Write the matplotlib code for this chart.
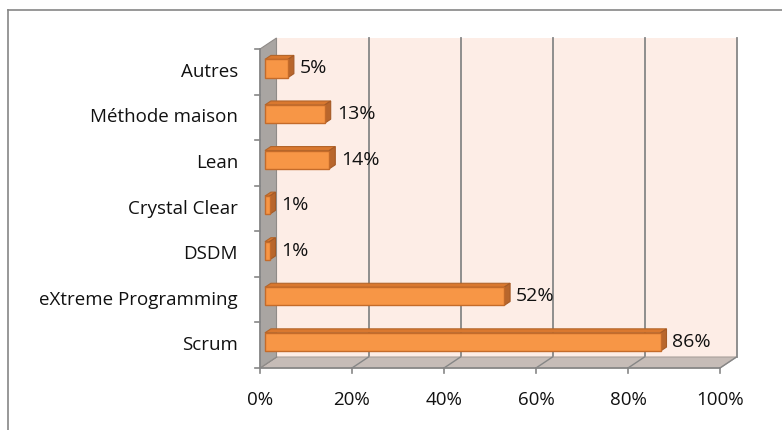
import matplotlib
matplotlib.use("Agg")
import matplotlib.pyplot as plt
from matplotlib.patches import Polygon
from matplotlib.lines import Line2D

# Data (bottom to top)
categories = ["Scrum", "eXtreme Programming", "DSDM", "Crystal Clear",
              "Lean", "Méthode maison", "Autres"]
values = [86, 52, 1, 1, 14, 13, 5]
xticks = [0, 20, 40, 60, 80, 100]
xtick_labels = ["0%", "20%", "40%", "60%", "80%", "100%"]

plt.rcParams["font.family"] = ["Open Sans", "DejaVu Sans"]

W, H = 782, 430
fig = plt.figure(figsize=(W / 100, H / 100), dpi=100)

# front plane of the 3D box, in pixels
left_px, right_px, top_px, bottom_px = 260, 720, 49, 368
ax = fig.add_axes([left_px / W, 1 - bottom_px / H,
                   (right_px - left_px) / W, (bottom_px - top_px) / H])
ax.set_xlim(0, 100)
ax.set_ylim(-0.5, len(categories) - 0.5)
ax.axis("off")

# pixel -> data conversion for the depth offsets
px_x = (right_px - left_px) / 100.0
px_y = (bottom_px - top_px) / len(categories)
DX = 16.5 / px_x
DY = 11.0 / px_y

ymin, ymax = -0.5, len(categories) - 0.5
grid_col = "#868686"
txt_col = "#111111"

def poly(pts, fc, ec="none", lw=0.8, z=1):
    ax.add_patch(Polygon(pts, closed=True, facecolor=fc, edgecolor=ec,
                         linewidth=lw, zorder=z, clip_on=False))

# back wall
poly([(DX, ymin + DY), (100 + DX, ymin + DY), (100 + DX, ymax + DY),
      (DX, ymax + DY)], "#fdede6", z=1)
for t in xticks[1:]:
    ax.plot([t + DX, t + DX], [ymin + DY, ymax + DY], color=grid_col,
            lw=1.3, zorder=2, clip_on=False)

# floor
poly([(0, ymin), (100, ymin), (100 + DX, ymin + DY), (DX, ymin + DY)],
     "#c6bcb7", ec="#a9a09c", z=2)
for t in xticks:
    ax.plot([t, t + DX], [ymin, ymin + DY], color=grid_col, lw=1.0,
            zorder=3, clip_on=False)

# left wall
poly([(0, ymin), (0, ymax), (DX, ymax + DY), (DX, ymin + DY)],
     "#a9a5a2", ec="#8f8b88", z=3)

# axis lines and ticks
ax.plot([0, 100], [ymin, ymin], color=grid_col, lw=1.2, zorder=4, clip_on=False)
ax.plot([0, 0], [ymin, ymax], color=grid_col, lw=1.2, zorder=4, clip_on=False)
tick_x = 5 / px_x
tick_y = 5 / px_y
for t in xticks:
    ax.plot([t, t], [ymin, ymin - tick_y], color=grid_col, lw=1.2,
            zorder=4, clip_on=False)
for k in range(len(categories) + 1):
    y = ymin + k
    ax.plot([0, -tick_x], [y, y], color=grid_col, lw=1.2, zorder=4,
            clip_on=False)

# bars
f0, f1 = 0.3, 0.66
h = 0.4
for i, v in enumerate(values):
    ox0, oy0 = f0 * DX, f0 * DY
    ox1, oy1 = f1 * DX, f1 * DY
    yb, yt = i - h / 2, i + h / 2
    # top face
    poly([(ox0, yt + oy0), (v + ox0, yt + oy0), (v + ox1, yt + oy1),
          (ox1, yt + oy1)], "#d9782f", ec="#b3652a", z=10)
    # side face
    poly([(v + ox0, yb + oy0), (v + ox0, yt + oy0), (v + ox1, yt + oy1),
          (v + ox1, yb + oy1)], "#b8662c", ec="#a55a26", z=10)
    # front face
    poly([(ox0, yb + oy0), (v + ox0, yb + oy0), (v + ox0, yt + oy0),
          (ox0, yt + oy0)], "#f79646", ec="#c46b2a", lw=1.0, z=11)
    ax.text(v + ox1 + 6 / px_x, i + oy0, f"{v}%", ha="left", va="center",
            fontsize=14, color=txt_col, zorder=12)

# category labels
for i, c in enumerate(categories):
    ax.text(-22 / px_x, i, c, ha="right", va="center", fontsize=13.5,
            color=txt_col)

# x tick labels
for t, lab in zip(xticks, xtick_labels):
    ax.text(t, ymin - 32 / px_y, lab, ha="center", va="center",
            fontsize=13.5, color=txt_col)

# outer chart border (left and top visible)
fig.add_artist(Line2D([8 / W, 8 / W], [0, 1 - 10 / H], color=grid_col,
                      lw=1.2, transform=fig.transFigure))
fig.add_artist(Line2D([8 / W, 1], [1 - 10 / H, 1 - 10 / H], color=grid_col,
                      lw=1.2, transform=fig.transFigure))

fig.savefig("out.png", dpi=100)
